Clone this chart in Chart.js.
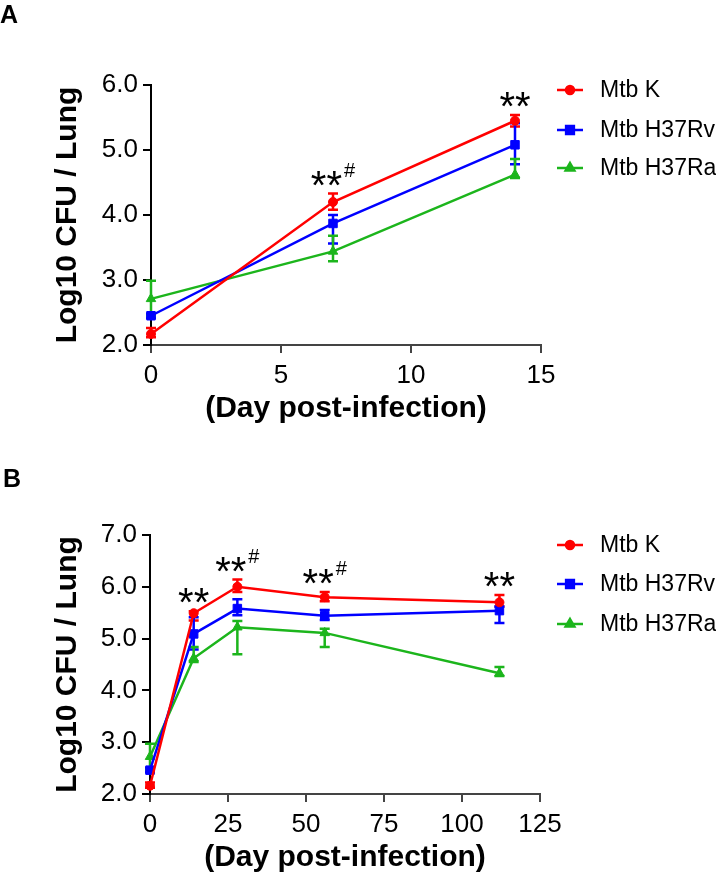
<!DOCTYPE html>
<html>
<head>
<meta charset="utf-8">
<script src="https://cdn.jsdelivr.net/npm/chart.js@4"></script>
<style>
  body { margin: 0; background: #fff; width: 716px; height: 874px; position: relative; overflow: hidden; }
  canvas { position: absolute; left: 0; }
  .tag { position: absolute; z-index: 2; font: bold 25px "Liberation Sans", Arial, sans-serif; }
</style>
</head>
<body>
<div class="tag" style="left:0;top:0">A</div>
<canvas id="chartA" width="716" height="436" style="top:0"></canvas>
<div class="tag" style="left:3px;top:464px">B</div>
<canvas id="chartB" width="716" height="438" style="top:436px"></canvas>
<script>
// series shared by both panels
const seriesNames = ['Mtb K', 'Mtb H37Rv', 'Mtb H37Ra'];
const seriesColors = ['#ff0000', '#0000ff', '#1cb51c'];
const seriesMarkers = ['circle', 'rect', 'triangle'];
const markerSizes = [4.5, 6, 5.5];

// Panel A - early infection
const daysA = [0, 7, 14];
const kA = [2.17, 4.20, 5.45];
const kA_lo = [2.12, 4.08, 5.36];
const kA_hi = [2.26, 4.33, 5.54];
const rvA = [2.45, 3.87, 5.08];
const rvA_lo = [2.42, 3.56, 4.78];
const rvA_hi = [2.48, 4.00, 5.41];
const raA = [2.71, 3.44, 4.62];
const raA_lo = [2.45, 3.29, 4.57];
const raA_hi = [2.99, 3.68, 4.86];
const sigDaysA = [7, 14];
const sigHashA = [true, false];

// Panel B - long course
const daysB = [0, 14, 28, 56, 112];
const kB = [2.16, 5.49, 6.00, 5.80, 5.70];
const kB_lo = [2.12, 5.35, 5.90, 5.72, 5.62];
const kB_hi = [2.22, 5.53, 6.14, 5.90, 5.84];
const rvB = [2.46, 5.09, 5.58, 5.44, 5.54];
const rvB_lo = [2.42, 4.79, 5.45, 5.36, 5.30];
const rvB_hi = [2.50, 5.41, 5.76, 5.55, 5.62];
const raB = [2.72, 4.62, 5.22, 5.11, 4.33];
const raB_lo = [2.47, 4.55, 4.70, 4.84, 4.28];
const raB_hi = [2.97, 4.84, 5.34, 5.19, 4.45];
const sigDaysB = [14, 28, 56, 112];
const sigHashB = [false, true, true, false];

const FONT = '"Liberation Sans", Arial, sans-serif';

// vertical error bars with caps, drawn under the markers
const errorBars = {
  id: 'errorBars',
  beforeDatasetsDraw(chart) {
    const ctx = chart.ctx;
    const y = chart.scales.y;
    chart.data.datasets.forEach((ds, i) => {
      const meta = chart.getDatasetMeta(i);
      ctx.save();
      ctx.strokeStyle = ds.borderColor;
      ctx.lineWidth = 2.5;
      meta.data.forEach((pt, j) => {
        const top = y.getPixelForValue(ds.errHigh[j]);
        const bot = y.getPixelForValue(ds.errLow[j]);
        ctx.beginPath();
        ctx.moveTo(pt.x, top); ctx.lineTo(pt.x, bot);
        ctx.moveTo(pt.x - 5, top); ctx.lineTo(pt.x + 5, top);
        ctx.moveTo(pt.x - 5, bot); ctx.lineTo(pt.x + 5, bot);
        ctx.stroke();
      });
      ctx.restore();
    });
  }
};

// ** and # marks above the highest error bar of a time point
const sigMarks = {
  id: 'sigMarks',
  afterDatasetsDraw(chart, args, opts) {
    const ctx = chart.ctx;
    const xs = chart.scales.x, ys = chart.scales.y;
    const days = chart.data.datasets[0].data.map(p => p.x);
    opts.days.forEach((d, k) => {
      const j = days.indexOf(d);
      let top = Infinity;
      chart.data.datasets.forEach(ds => { top = Math.min(top, ys.getPixelForValue(ds.errHigh[j])); });
      const cy = top - 18;
      ctx.save();
      ctx.fillStyle = '#000';
      ctx.textAlign = 'left';
      ctx.textBaseline = 'alphabetic';
      ctx.font = '40px ' + FONT;
      const sw = ctx.measureText('**').width;
      ctx.font = '20px ' + FONT;
      const hw = opts.hash[k] ? ctx.measureText('#').width + 2 : 0;
      const x0 = xs.getPixelForValue(d) - (sw + hw) / 2;
      ctx.font = '40px ' + FONT;
      ctx.fillText('**', x0, cy + 23);
      if (opts.hash[k]) {
        ctx.font = '20px ' + FONT;
        ctx.fillText('#', x0 + sw + 2, cy + 1);
      }
      ctx.restore();
    });
  }
};

// legend on the right: short line with the marker, then the name
const sideLegend = {
  id: 'sideLegend',
  afterDraw(chart, args, opts) {
    const ctx = chart.ctx;
    chart.data.datasets.forEach((ds, i) => {
      const y = opts.rows[i];
      ctx.save();
      ctx.strokeStyle = ds.borderColor;
      ctx.fillStyle = ds.borderColor;
      ctx.lineWidth = 2.5;
      ctx.beginPath();
      ctx.moveTo(opts.x, y); ctx.lineTo(opts.x + 26, y);
      ctx.stroke();
      Chart.helpers.drawPoint(ctx, {
        pointStyle: ds.pointStyle, radius: ds.pointRadius - 0.5, rotation: 0, borderWidth: 1
      }, opts.x + 13, y);
      ctx.fillStyle = '#000';
      ctx.font = '23px ' + FONT;
      ctx.textBaseline = 'middle';
      ctx.fillText(ds.label, opts.x + 43, y + 1);
      ctx.restore();
    });
  }
};

function makeDatasets(days, vals, los, his) {
  return vals.map((v, i) => ({
    label: seriesNames[i],
    data: days.map((d, j) => ({ x: d, y: v[j] })),
    errLow: los[i],
    errHigh: his[i],
    borderColor: seriesColors[i],
    backgroundColor: seriesColors[i],
    borderWidth: 2.5,
    pointStyle: seriesMarkers[i],
    pointRadius: markerSizes[i],
    pointBorderWidth: 1,
    tension: 0,
    clip: false
  }));
}

function makeChart(id, cfg) {
  return new Chart(document.getElementById(id), {
    type: 'line',
    data: { datasets: makeDatasets(cfg.days, cfg.vals, cfg.los, cfg.his) },
    plugins: [errorBars, sigMarks, sideLegend],
    options: {
      responsive: false,
      animation: false,
      devicePixelRatio: 1,
      layout: { padding: cfg.padding },
      scales: {
        x: {
          type: 'linear',
          min: 0, max: cfg.xMax,
          afterFit: s => { s.height = cfg.xHeight; },
          border: { display: true, color: '#444', width: 2 },
          grid: { drawOnChartArea: false, drawTicks: true, tickLength: 8, color: '#444', lineWidth: 2 },
          ticks: { stepSize: cfg.xStep, color: '#000', font: { size: 26, family: FONT }, padding: 7 },
          title: { display: true, text: '(Day post-infection)', color: '#000',
                   font: { size: 30, weight: 'bold', family: FONT, lineHeight: 1 }, padding: 0 }
        },
        y: {
          min: 2, max: cfg.yMax,
          afterFit: s => { s.width = cfg.yWidth; },
          border: { display: true, color: '#000', width: 2 },
          grid: { drawOnChartArea: false, drawTicks: true, tickLength: 8, color: '#000', lineWidth: 2 },
          ticks: { stepSize: 1, color: '#000', font: { size: 26, family: FONT }, padding: 5,
                   callback: v => v.toFixed(1) },
          title: { display: true, text: 'Log10 CFU / Lung', color: '#000',
                   font: { size: 30, weight: 'bold', family: FONT, lineHeight: 1 }, padding: { top: 13 } }
        }
      },
      plugins: {
        legend: { display: false },
        tooltip: { enabled: false },
        sigMarks: { days: cfg.sigDays, hash: cfg.sigHash },
        sideLegend: { x: 557, rows: cfg.legendRows }
      }
    }
  });
}

makeChart('chartA', {
  days: daysA,
  vals: [kA, rvA, raA], los: [kA_lo, rvA_lo, raA_lo], his: [kA_hi, rvA_hi, raA_hi],
  sigDays: sigDaysA, sigHash: sigHashA,
  xMax: 15, xStep: 5, yMax: 6,
  padding: { left: 40, right: 175, top: 85, bottom: 12 },
  yWidth: 111, xHeight: 79,
  legendRows: [90, 130, 168]
});

makeChart('chartB', {
  days: daysB,
  vals: [kB, rvB, raB], los: [kB_lo, rvB_lo, raB_lo], his: [kB_hi, rvB_hi, raB_hi],
  sigDays: sigDaysB, sigHash: sigHashB,
  xMax: 125, xStep: 25, yMax: 7,
  padding: { left: 40, right: 176, top: 99, bottom: 1 },
  yWidth: 110, xHeight: 79,
  legendRows: [109, 148, 188]
});
</script>
</body>
</html>
